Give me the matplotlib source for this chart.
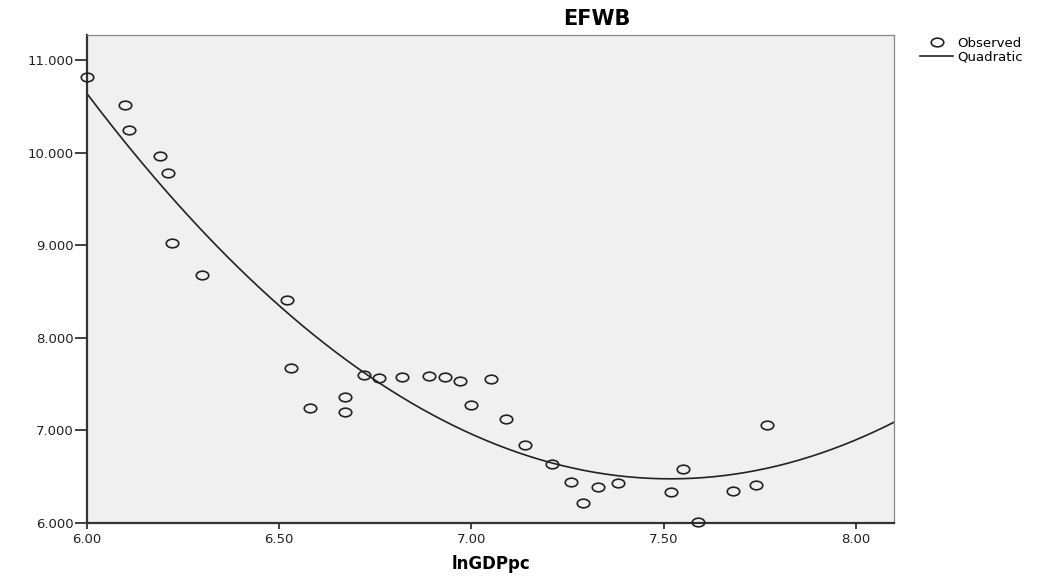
import numpy as np
import matplotlib
matplotlib.use("Agg")
import matplotlib.pyplot as plt
from matplotlib.path import Path
from matplotlib.transforms import Affine2D
from matplotlib.lines import Line2D

plt.rcParams['font.family'] = ['DejaVu Sans']

ln_gdppc = [6.00, 6.10, 6.11, 6.19, 6.21, 6.22, 6.30, 6.52, 6.53, 6.58,
            6.67, 6.67, 6.72, 6.76, 6.82, 6.89, 6.93, 6.97, 7.05, 7.00,
            7.09, 7.14, 7.21, 7.26, 7.29, 7.33, 7.38, 7.52, 7.55, 7.59,
            7.68, 7.74, 7.77]
efwb = [10.82, 10.52, 10.24, 9.96, 9.78, 9.03, 8.68, 8.41, 7.67, 7.24,
        7.36, 7.20, 7.60, 7.57, 7.58, 7.59, 7.58, 7.53, 7.56, 7.27,
        7.12, 6.84, 6.64, 6.44, 6.22, 6.39, 6.43, 6.33, 6.58, 6.01,
        6.35, 6.41, 7.06]

x_ticks = [6.00, 6.50, 7.00, 7.50, 8.00]
y_ticks = [6.0, 7.0, 8.0, 9.0, 10.0, 11.0]

# Quadratic fit of the observed data
coef = np.polyfit(ln_gdppc, efwb, 2)

fig = plt.figure(figsize=(10.54, 5.76), dpi=100)
ax = fig.add_axes([0.0825, 0.092, 0.766, 0.847])
ax.set_facecolor('#F0F0F0')

ell = Path.unit_circle().transformed(Affine2D().scale(1.45, 1.0))

ax.plot(ln_gdppc, efwb, linestyle='none', marker=ell, markersize=9,
        markerfacecolor='none', markeredgecolor='#222222', markeredgewidth=1.2,
        clip_on=False, zorder=3)

xx = np.linspace(6.0, 8.10, 300)
ax.plot(xx, np.polyval(coef, xx), color='#222222', linewidth=1.2, zorder=2)

ax.set_xlim(6.0, 8.10)
ax.set_ylim(6.0, 11.27)
ax.set_xticks(x_ticks)
ax.set_xticklabels([f"{v:.2f}" for v in x_ticks])
ax.set_yticks(y_ticks)
ax.set_yticklabels([f"{v:.3f}" for v in y_ticks])
ax.tick_params(direction='out', width=1.3, colors='#333333',
               labelsize=9.5, labelcolor='#222222')
ax.tick_params(axis='y', length=9, pad=0.5)
ax.tick_params(axis='x', length=4.5, pad=3)

for s in ['left', 'bottom']:
    ax.spines[s].set_linewidth(1.6)
    ax.spines[s].set_color('#333333')
for s in ['top', 'right']:
    ax.spines[s].set_linewidth(0.9)
    ax.spines[s].set_color('#888888')

fig.text(597 / 1054, 1 - 19 / 576, 'EFWB', fontsize=15, fontweight='bold',
         ha='center', va='center')
ax.set_xlabel('lnGDPpc', fontsize=12, fontweight='bold', labelpad=6)

handles = [Line2D([], [], linestyle='none', marker=ell, markersize=9,
                  markerfacecolor='none', markeredgecolor='#222222', markeredgewidth=1.2),
           Line2D([], [], color='#222222', linewidth=1.2)]
fig.legend(handles, ['Observed', 'Quadratic'], loc='upper left',
           bbox_to_anchor=(0.862, 0.957), frameon=False, fontsize=9.5,
           handlelength=2.5, handletextpad=0.3, labelspacing=0.1)

fig.savefig('out.png', dpi=100)
